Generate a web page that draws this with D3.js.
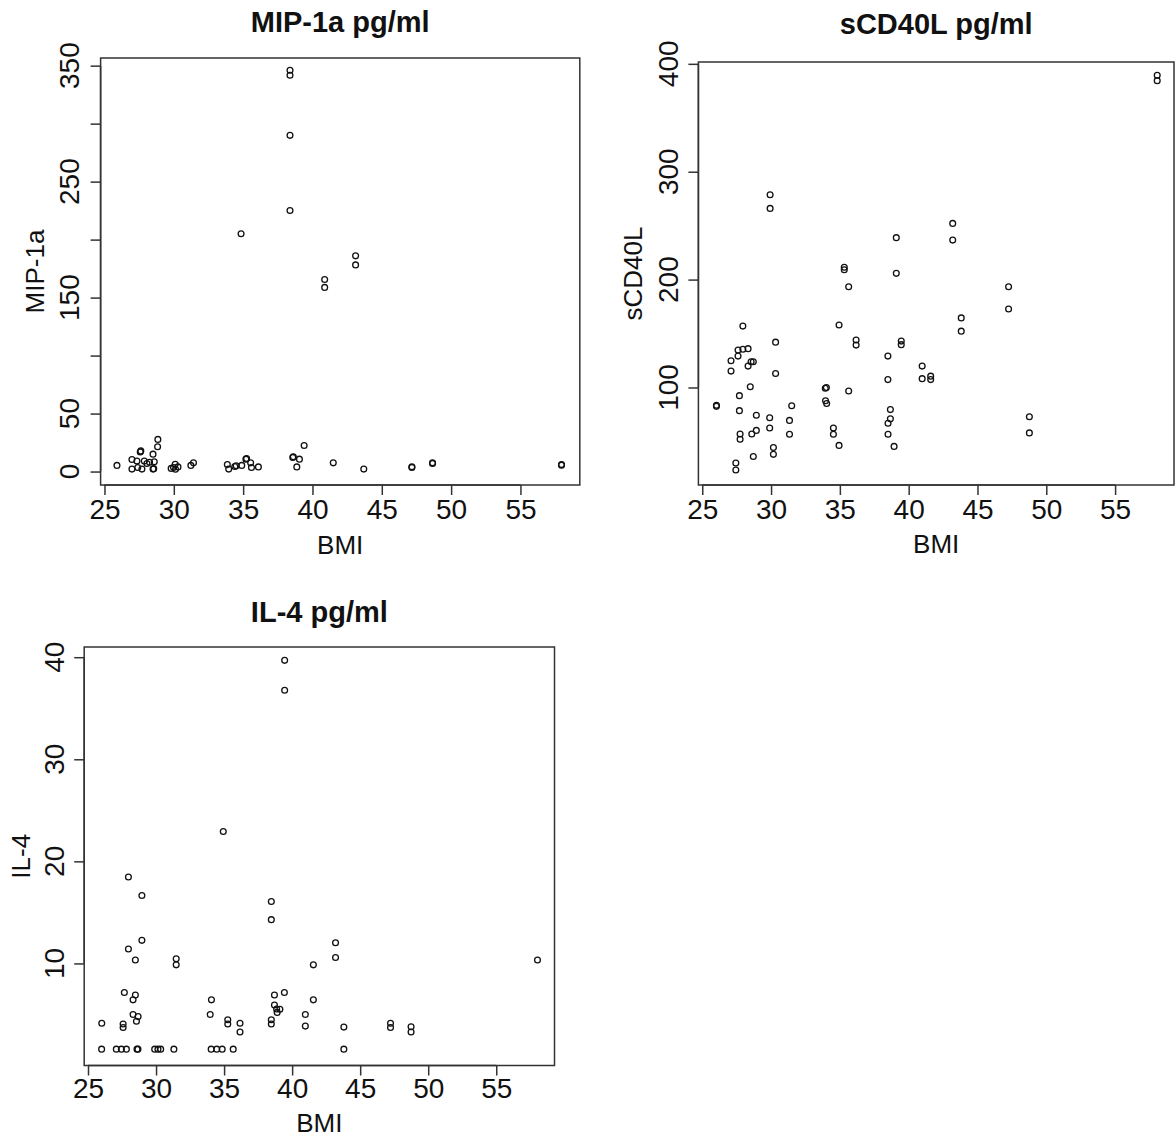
<!DOCTYPE html>
<html>
<head>
  <meta charset="UTF-8">
  <title>Cytokines vs BMI</title>
  <style>
    body {
      margin: 0;
      padding: 0;
      background: #fff;
    }
    svg {
      display: block;
      font-family: "Liberation Sans", Arial, sans-serif;
    }
  </style>
</head>
<body>
  <svg></svg>

  <script src="https://d3js.org/d3.v7.min.js"></script>
  <script>
    let width = 1176, height = 1139;

    // MIP-1a pg/ml vs BMI
    let mipBmi = [38.38, 38.38, 38.38, 38.38, 34.85, 43.11, 43.11, 40.88, 40.88,
      25.9, 26.98, 26.98, 27.34, 27.4, 27.58, 27.62, 27.7, 27.87, 28.06, 28.25, 28.5, 28.5, 28.55, 28.59,
      28.83, 28.85, 29.81, 29.98, 30.1, 30.3, 30.12, 31.23, 31.42, 33.86, 33.96, 34.4, 34.5, 34.9,
      35.2, 35.25, 35.54, 35.6, 36.1, 38.58, 38.62, 38.87, 39.06, 39.4, 41.5, 43.7, 47.17, 47.17,
      48.66, 48.66, 57.96, 57.96];
    let mipVals = [346, 341.7, 289.9, 225.1, 205, 186, 178.2, 165.6, 158.8,
      5.3, 10.4, 2.1, 9, 3.5, 16.8, 17.8, 2.1, 9, 7, 8, 15, 2.1, 2.5, 8.5,
      21.4, 27.7, 2.7, 3.5, 6.3, 4, 2, 5.3, 7.5, 6, 2.1, 4.4, 5, 5.3,
      10.7, 11.2, 7.5, 3.5, 4, 12.2, 12.8, 4, 10.7, 22.5, 7.5, 2.1, 3.5, 4.2,
      7, 7.6, 5.5, 6.0];

    // sCD40L pg/ml vs BMI
    let cd40Bmi = [58.06, 58.06, 29.93, 29.93, 43.2, 43.2, 39.1, 39.1, 35.32, 35.32, 35.64,
      47.26, 47.26, 43.82, 43.82, 27.95, 34.94, 30.33, 36.18, 36.18, 39.46, 39.46,
      28.33, 27.6, 27.95, 27.6, 27.09, 27.09, 28.55, 28.71, 28.33, 30.33, 28.49, 27.7,
      34.02, 33.94, 35.64, 38.49, 38.49, 40.98, 40.98, 41.6, 41.6, 26.03, 26.03, 27.7,
      28.93, 29.9, 31.34, 31.5, 33.96, 34.04, 38.67, 38.67, 38.5, 48.77, 48.77, 27.75,
      27.75, 28.6, 28.93, 29.9, 31.34, 34.53, 34.53, 38.5, 34.94, 38.94, 30.17, 30.17,
      28.71, 27.44, 27.44];
    let cd40Vals = [389.4, 384.4, 278.6, 266, 252.1, 236.6, 238.9, 205.8, 211.4, 209.1, 193.3,
      193.3, 172.7, 164.5, 152.2, 156.9, 157.9, 142, 144, 139.3, 143, 139.7,
      136, 134.7, 135.4, 129.1, 124.8, 115.2, 123.8, 123.8, 119.8, 112.9, 100.7, 92.4,
      100, 99.3, 96.7, 129.1, 107.3, 119.8, 108.2, 110.5, 107.3, 83.5, 82.5, 78.5,
      74.2, 71.9, 69.5, 83.1, 87.7, 85.1, 79.5, 70.9, 66.9, 72.8, 57.9, 56.9,
      52, 56.9, 60.2, 62.5, 56.6, 62.5, 56.6, 56.6, 46.3, 45.4, 44.3, 38,
      36, 30, 23.5];

    // IL-4 pg/ml vs BMI
    let il4Bmi = [39.45, 39.45, 34.94, 27.97, 28.96, 38.47, 38.47, 28.96, 43.19, 27.97, 43.19,
      28.48, 31.48, 31.48, 41.56, 58.03, 27.67, 39.43, 28.48, 38.7, 28.31, 34.07, 41.56,
      38.7, 38.86, 39.1, 38.9, 28.31, 33.98, 40.97, 28.68, 28.56, 35.27, 35.27, 36.17,
      36.17, 38.47, 38.47, 26.01, 27.58, 27.58, 40.97, 43.8, 47.23, 47.23, 48.74, 48.74,
      26.0, 27.08, 27.45, 27.82, 28.6, 28.67, 29.9, 30.14, 30.34, 31.31, 34.05, 34.46,
      34.86, 35.67, 43.8];
    let il4Vals = [39.69, 36.77, 22.92, 18.47, 16.65, 16.07, 14.29, 12.26, 12.02, 11.41, 10.58,
      10.34, 10.45, 9.86, 9.86, 10.34, 7.15, 7.15, 6.91, 6.91, 6.43, 6.43, 6.43,
      5.92, 5.54, 5.51, 5.2, 4.99, 4.99, 4.99, 4.79, 4.34, 4.48, 4.07, 4.14,
      3.28, 4.48, 4.07, 4.14, 4.07, 3.73, 3.86, 3.76, 4.14, 3.73, 3.8, 3.28,
      1.6, 1.6, 1.6, 1.6, 1.6, 1.6, 1.6, 1.6, 1.6, 1.6, 1.6, 1.6,
      1.6, 1.6, 1.6];

    let bmiTicks = [25, 30, 35, 40, 45, 50, 55];
    let mipTicks = [0, 50, 100, 150, 200, 250, 300, 350];
    let mipTickLabels = [0, 50, 150, 250, 350];
    let cd40Ticks = [100, 200, 300, 400];
    let il4Ticks = [10, 20, 30, 40];

    let svg = d3.select("svg")
        .attr("width", width)
        .attr("height", height);

    function drawPanel(p) {
      let g = svg.append("g");

      let x = d3.scaleLinear().domain([24.72, 59.28]).range([p.left, p.right]);
      let y = d3.scaleLinear().domain(p.yDomain).range([p.bottom, p.top]);

      // plot frame
      g.append("rect")
          .attr("x", p.left)
          .attr("y", p.top)
          .attr("width", p.right - p.left)
          .attr("height", p.bottom - p.top)
          .attr("fill", "none")
          .attr("stroke", "#333")
          .attr("stroke-width", 1.5);

      // x axis
      let xAxis = d3.axisBottom(x)
          .tickValues(bmiTicks)
          .tickSize(10)
          .tickSizeOuter(0);
      let xg = g.append("g")
          .attr("transform", "translate(0," + p.bottom + ")")
          .call(xAxis);
      xg.select(".domain")
          .attr("d", "M" + x(bmiTicks[0]) + ",0H" + x(bmiTicks[bmiTicks.length - 1]))
          .attr("stroke", "#333").attr("stroke-width", 1.5);
      xg.selectAll(".tick line").attr("stroke", "#333").attr("stroke-width", 1.5);
      xg.selectAll(".tick text")
          .attr("y", null).attr("dy", null)
          .attr("transform", "translate(0," + (p.xLabelBase - p.bottom) + ")")
          .attr("fill", "#111")
          .style("font-size", "28px")
          .style("font-family", "'Liberation Sans', Arial, sans-serif");

      // y axis (ticks only, labels rotated like R)
      let yAxis = d3.axisLeft(y)
          .tickValues(p.yTicks)
          .tickSize(10)
          .tickSizeOuter(0)
          .tickFormat("");
      let yg = g.append("g")
          .attr("transform", "translate(" + p.left + ",0)")
          .call(yAxis);
      yg.select(".domain")
          .attr("d", "M0," + y(p.yTicks[0]) + "V" + y(p.yTicks[p.yTicks.length - 1]))
          .attr("stroke", "#333").attr("stroke-width", 1.5);
      yg.selectAll(".tick line").attr("stroke", "#333").attr("stroke-width", 1.5);

      g.selectAll(".ylab")
          .data(p.yLabels)
          .enter()
          .append("text")
          .attr("class", "ylab")
          .attr("transform", d => "translate(" + p.yLabelBase + "," + y(d) + ") rotate(-90)")
          .attr("text-anchor", "middle")
          .attr("fill", "#111")
          .style("font-size", "28px")
          .text(d => d);

      // points
      g.append("g")
          .selectAll("circle")
          .data(p.xs.map((d, i) => [d, p.ys[i]]))
          .enter()
          .append("circle")
          .attr("cx", d => x(d[0]))
          .attr("cy", d => y(d[1]))
          .attr("r", 2.9)
          .attr("fill", "none")
          .attr("stroke", "#111")
          .attr("stroke-width", 1.3);

      // titles
      g.append("text")
          .attr("x", (p.left + p.right) / 2)
          .attr("y", p.titleBase)
          .attr("text-anchor", "middle")
          .attr("font-weight", "bold")
          .attr("fill", "#111")
          .style("font-size", "29px")
          .text(p.title);

      g.append("text")
          .attr("x", (p.left + p.right) / 2)
          .attr("y", p.bmiBase)
          .attr("text-anchor", "middle")
          .attr("fill", "#111")
          .style("font-size", "26px")
          .text("BMI");

      g.append("text")
          .attr("transform", "translate(" + p.yTitleBase + "," + ((p.top + p.bottom) / 2) + ") rotate(-90)")
          .attr("text-anchor", "middle")
          .attr("fill", "#111")
          .style("font-size", "26px")
          .text(p.yTitle);
    }

    drawPanel({
      left: 100.6, right: 579.8, top: 58, bottom: 485,
      yDomain: [-11.6, 356.6],
      yTicks: mipTicks, yLabels: mipTickLabels,
      xs: mipBmi, ys: mipVals,
      title: "MIP-1a pg/ml", yTitle: "MIP-1a",
      titleBase: 32, xLabelBase: 519, bmiBase: 554, yLabelBase: 79, yTitleBase: 44
    });

    drawPanel({
      left: 698.4, right: 1174, top: 62, bottom: 485,
      yDomain: [9.6, 401.7],
      yTicks: cd40Ticks, yLabels: cd40Ticks,
      xs: cd40Bmi, ys: cd40Vals,
      title: "sCD40L pg/ml", yTitle: "sCD40L",
      titleBase: 34, xLabelBase: 519, bmiBase: 553, yLabelBase: 678, yTitleBase: 642
    });

    drawPanel({
      left: 84.2, right: 554.5, top: 647, bottom: 1065.5,
      yDomain: [0, 41],
      yTicks: il4Ticks, yLabels: il4Ticks,
      xs: il4Bmi, ys: il4Vals,
      title: "IL-4 pg/ml", yTitle: "IL-4",
      titleBase: 622, xLabelBase: 1098, bmiBase: 1132, yLabelBase: 64, yTitleBase: 30
    });
  </script>
</body>
</html>
